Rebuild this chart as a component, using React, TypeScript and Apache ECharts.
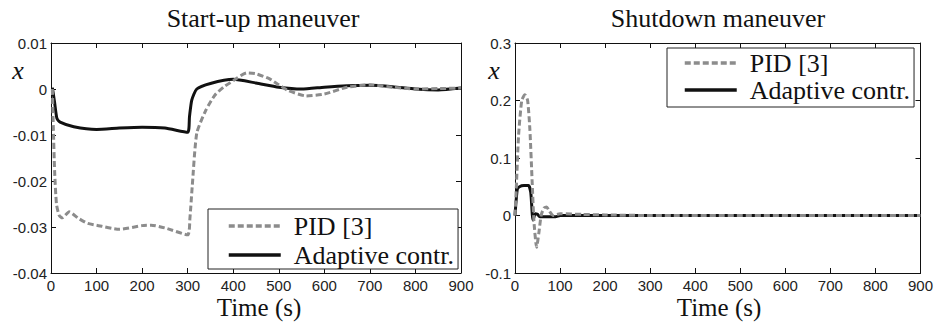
import React, { useEffect, useRef } from "react";
import * as echarts from "echarts";

// Start-up maneuver
const startPidT = [3, 5, 8, 12, 18, 25, 40, 60, 80, 100, 150, 200, 220, 250, 300, 305, 310, 320, 340, 360, 380, 400, 430, 450, 480, 500, 520, 560, 600, 650, 700, 750, 800, 850, 900];
const startPidX = [0, -0.008, -0.018, -0.025, -0.0275, -0.028, -0.0267, -0.0281, -0.0292, -0.0296, -0.0305, -0.0297, -0.0296, -0.0302, -0.0317, -0.028, -0.0212, -0.0096, -0.0046, -0.0013, 0.0005, 0.0018, 0.0035, 0.0033, 0.0022, 0.0009, -0.0003, -0.0015, -0.0011, 0.0004, 0.0009, 0.0004, 0, 0.0001, 0.0002];
const startAdaT = [3, 8, 13, 20, 50, 100, 150, 200, 250, 300, 304, 309, 320, 350, 400, 450, 500, 550, 600, 650, 700, 750, 800, 850, 900];
const startAdaX = [0.0003, -0.003, -0.0064, -0.0072, -0.0082, -0.0088, -0.0085, -0.0083, -0.0085, -0.0094, -0.006, -0.0024, 0, 0.0012, 0.0021, 0.0013, 0.0004, 0, 0.0004, 0.0007, 0.0008, 0.0005, 0, -0.0002, 0.0002];

// Shutdown maneuver
const shutPidT = [0, 3, 8, 15, 22, 28, 33, 38, 42, 48, 53, 58, 64, 70, 76, 85, 100, 150, 200, 300, 900];
const shutPidX = [0, 0.05, 0.14, 0.2, 0.21, 0.2, 0.15, 0.06, -0.01, -0.055, -0.03, 0, 0.013, 0.015, 0.008, 0, 0.003, 0.002, 0.001, 0, 0];
const shutAdaT = [0, 5, 10, 20, 30, 35, 40, 45, 50, 55, 70, 90, 100, 900];
const shutAdaX = [0, 0.045, 0.05, 0.052, 0.052, 0.04, -0.008, 0.003, 0.002, -0.002, -0.002, -0.002, 0, 0];

const titles = ["Start-up maneuver", "Shutdown maneuver"];
const seriesNames = ["PID [3]", "Adaptive contr."];
const xLabel = "Time (s)";
const yLabel = "x";

const zip = (t: number[], v: number[]) => t.map((x, i) => [x, v[i]]);

export default function App() {
  const ref = useRef<HTMLDivElement>(null);
  useEffect(() => {
    if (!ref.current) return;
    const chart = echarts.init(ref.current, null, { renderer: "svg" });
    const serif = "'Liberation Serif', 'Times New Roman', serif";
    const sans = "'Liberation Sans', Arial, sans-serif";
    const grids = [
      { left: 51, top: 43, width: 410, height: 230 },
      { left: 515, top: 43, width: 408, height: 230 },
    ];
    const yRanges = [
      { min: -0.04, max: 0.01, interval: 0.01 },
      { min: -0.1, max: 0.3, interval: 0.1 },
    ];
    const axisLine = { show: true, onZero: false, lineStyle: { color: "#111", width: 1 } };
    const tick = { show: true, inside: true, length: 5, lineStyle: { color: "#111" } };
    const xAxes: any[] = [];
    const yAxes: any[] = [];
    [0, 1].forEach((g) => {
      xAxes.push({
        type: "value", gridIndex: g, min: 0, max: 900, interval: 100, position: "bottom",
        axisLine, axisTick: tick, splitLine: { show: false },
        axisLabel: { color: "#222", fontFamily: sans, fontSize: 15, margin: 5 },
      });
      xAxes.push({
        type: "value", gridIndex: g, min: 0, max: 900, interval: 100, position: "top",
        axisLine, axisTick: tick, splitLine: { show: false }, axisLabel: { show: false },
      });
      yAxes.push({
        type: "value", gridIndex: g, ...yRanges[g], position: "left",
        axisLine, axisTick: tick, splitLine: { show: false },
        axisLabel: { color: "#222", fontFamily: sans, fontSize: 15, margin: 4 },
      });
      yAxes.push({
        type: "value", gridIndex: g, ...yRanges[g], position: "right",
        axisLine, axisTick: tick, splitLine: { show: false }, axisLabel: { show: false },
      });
    });
    const ada = (g: number, data: number[][]) => ({
      type: "line", name: seriesNames[1], xAxisIndex: g * 2, yAxisIndex: g * 2, data,
      showSymbol: false, symbol: "none", smooth: 0.2, z: 2,
      lineStyle: { color: "#111", width: 3 }, itemStyle: { color: "#111" },
    });
    const pid = (g: number, data: number[][]) => ({
      type: "line", name: seriesNames[0], xAxisIndex: g * 2, yAxisIndex: g * 2, data,
      showSymbol: false, symbol: "none", smooth: 0.2, z: 3,
      lineStyle: { color: "#8c8c8c", width: 3, type: [6, 3] }, itemStyle: { color: "#8c8c8c" },
    });
    const legendBase = {
      orient: "vertical", data: seriesNames, itemWidth: 52, itemHeight: 14,
      borderColor: "#222", borderWidth: 1, borderRadius: 0, backgroundColor: "#fff",
      selectedMode: false,
      itemStyle: { opacity: 0 },
      lineStyle: { width: 3.5 },
      textStyle: { fontFamily: serif, fontSize: 26, color: "#111", lineHeight: 26, padding: [0, 0, 0, 8] },
    };
    const txt = (x: number, y: number, text: string, italic = false, size = 26) => ({
      type: "text", x, y,
      style: { text, font: `${italic ? "italic " : ""}${size}px ${serif}`, fill: "#111", align: "center" },
    });
    chart.setOption({
      animation: false,
      title: [
        { text: titles[0], left: 263, top: 5, textAlign: "center", padding: 0, textStyle: { fontFamily: serif, fontSize: 26, fontWeight: "normal", color: "#111" } },
        { text: titles[1], left: 718, top: 5, textAlign: "center", padding: 0, textStyle: { fontFamily: serif, fontSize: 26, fontWeight: "normal", color: "#111" } },
      ],
      grid: grids.map((g) => ({ ...g, containLabel: false })),
      xAxis: xAxes,
      yAxis: yAxes,
      legend: [
        { ...legendBase, left: 208, top: 209, padding: [4, 4, 1, 19], itemGap: 3 },
        { ...legendBase, left: 667, top: 48, padding: [2, 4, 4, 16], itemGap: 1 },
      ],
      series: [
        ada(0, zip(startAdaT, startAdaX)),
        pid(0, zip(startPidT, startPidX)),
        ada(1, zip(shutAdaT, shutAdaX)),
        pid(1, zip(shutPidT, shutPidX)),
      ],
      graphic: [
        txt(259, 295, xLabel, false, 25),
        txt(719, 295, xLabel, false, 25),
        txt(18, 57, yLabel, true),
        txt(494, 57, yLabel, true),
      ],
    });
    return () => chart.dispose();
  }, []);
  return <div ref={ref} style={{ position: "fixed", left: 0, top: 0, width: 936, height: 322, background: "#fff" }} />;
}
